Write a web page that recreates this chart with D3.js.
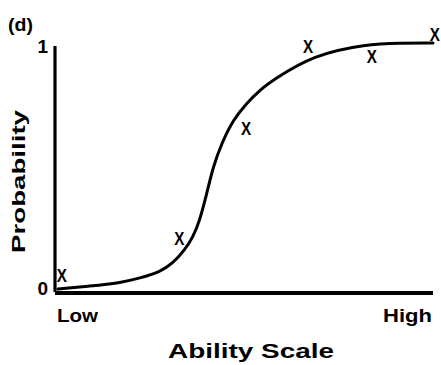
<!DOCTYPE html>
<html>
<head>
<meta charset="utf-8">
<script src="https://cdn.jsdelivr.net/npm/d3@7"></script>
<style>
  body { margin: 0; background: #fff; }
  svg text { font-family: "Liberation Sans", Arial, Helvetica, sans-serif; font-weight: bold; fill: #000; }
</style>
</head>
<body>
<div id="chart"></div>
<script>
// ability (logit units, Low..High) and probability
var curveAbility = [-3.00, -2.49, -2.01, -1.69, -1.37, -1.16, -0.97, -0.84, -0.74, -0.62, -0.52, -0.38, -0.20, 0.02, 0.23, 0.44, 1.08, 1.94, 2.47, 3.00];
var curveProb    = [0.012, 0.024, 0.036, 0.056, 0.080, 0.116, 0.169, 0.221, 0.281, 0.394, 0.502, 0.598, 0.691, 0.759, 0.811, 0.851, 0.952, 0.996, 1.000, 1.000];

// observed proportions (the X marks)
var obsAbility = [-2.94, -1.06, 0.01, 1.00, 2.02, 3.03];
var obsProb    = [0.068, 0.217, 0.659, 0.988, 0.948, 1.036];

var yTicks = [0, 1];
var xEndLabels = ["Low", "High"];

var width = 441, height = 365;

var svg = d3.select('#chart').append('svg')
    .attr('width', width)
    .attr('height', height);

var x = d3.scaleLinear().domain([-3, 3]).range([58, 433]);
var y = d3.scaleLinear().domain([0, 1]).range([292, 43]);

// panel letter
svg.append('text')
    .attr('x', 8).attr('y', 31)
    .attr('font-size', 18)
    .attr('textLength', 25)
    .attr('lengthAdjust', 'spacingAndGlyphs')
    .text('(d)');

// y axis: plain thick line, labels 0 and 1
var yAxis = svg.append('g')
    .attr('transform', 'translate(' + (x.range()[0] - 3) + ',0)')
    .call(d3.axisLeft(y).tickValues(yTicks).tickSize(0).tickSizeOuter(0).tickPadding(7)
        .tickFormat(d3.format('d')));
yAxis.select('.domain').attr('stroke', '#000').attr('stroke-width', 3.2)
    .attr('d', 'M0,' + (y(1) + 3) + 'V' + y(0));
yAxis.selectAll('.tick text')
    .attr('font-size', 19)
    .attr('font-family', '"Liberation Sans", Arial, sans-serif')
    .attr('font-weight', 'bold')
    .attr('dy', function(d) { return d === 1 ? '0.5em' : '0.12em'; });

// x axis: thick line, no ticks
var xAxis = svg.append('g')
    .attr('transform', 'translate(0,' + (y(0) + 1) + ')')
    .call(d3.axisBottom(x).tickValues([]).tickSizeOuter(0));
xAxis.select('.domain')
    .attr('stroke', '#000').attr('stroke-width', 4)
    .attr('d', 'M' + (x.range()[0] - 3) + ',0H' + x.range()[1]);

// Low / High end labels
svg.selectAll('.endlabel')
    .data(xEndLabels)
    .enter().append('text')
    .attr('class', 'endlabel')
    .attr('x', function(d, i) { return i === 0 ? 57 : 383; })
    .attr('y', 322)
    .attr('font-size', 18)
    .attr('textLength', function(d, i) { return i === 0 ? 41 : 49; })
    .attr('lengthAdjust', 'spacingAndGlyphs')
    .text(function(d) { return d; });

// axis titles
svg.append('text')
    .attr('x', 168).attr('y', 358)
    .attr('font-size', 21)
    .attr('textLength', 166)
    .attr('lengthAdjust', 'spacingAndGlyphs')
    .text('Ability Scale');

svg.append('text')
    .attr('transform', 'translate(25,253) rotate(-90)')
    .attr('font-size', 18)
    .attr('textLength', 143)
    .attr('lengthAdjust', 'spacingAndGlyphs')
    .text('Probability');

// fitted curve
var pts = curveAbility.map(function(a, i) { return [a, curveProb[i]]; });
var line = d3.line()
    .x(function(d) { return x(d[0]); })
    .y(function(d) { return y(d[1]); })
    .curve(d3.curveBasis);

svg.append('path')
    .datum(pts)
    .attr('fill', 'none')
    .attr('stroke', '#000')
    .attr('stroke-width', 3)
    .attr('stroke-linecap', 'round')
    .attr('d', line);

// observed points as X marks
var obs = obsAbility.map(function(a, i) { return { a: a, p: obsProb[i] }; });
svg.selectAll('.obs')
    .data(obs)
    .enter().append('text')
    .attr('class', 'obs')
    .attr('transform', function(d) { return 'translate(' + x(d.a) + ',' + y(d.p) + ') scale(0.8,1)'; })
    .attr('text-anchor', 'middle')
    .attr('dy', '0.36em')
    .attr('font-size', 19)
    .text('X');
</script>
</body>
</html>
